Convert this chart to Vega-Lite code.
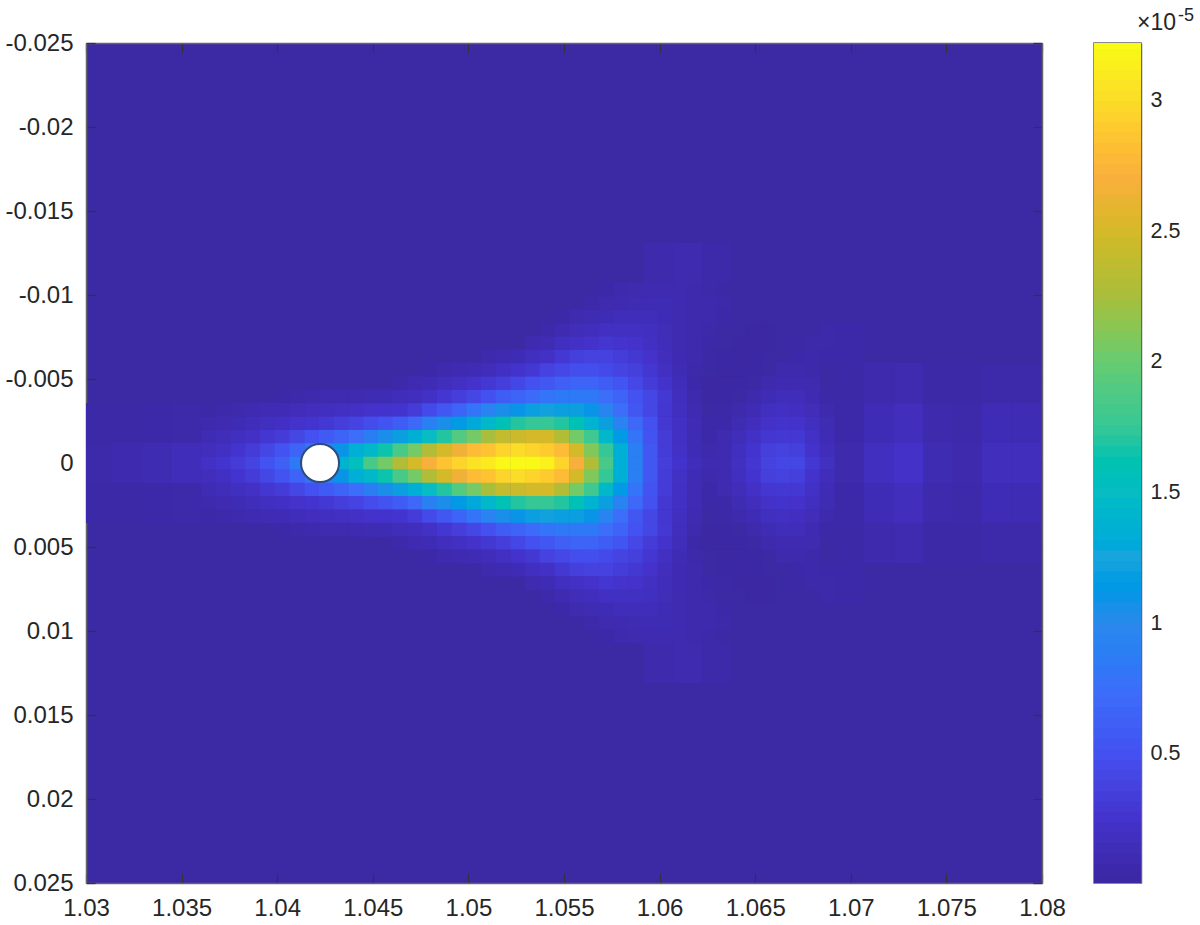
{"$schema":"https://vega.github.io/schema/vega-lite/v6.json","background":"white","padding":{"left":4,"top":6,"right":5,"bottom":5},"spacing":52,"bounds":"flush","config":{"view":{"fill":"#3C2AA5","stroke":null},"font":"Liberation Sans","axis":{"grid":false,"title":null,"labelFont":"Liberation Sans","labelColor":"#262626","tickColor":"#333333","domainColor":"#666666","domainWidth":1.5,"tickWidth":1.2,"zindex":1}},"datasets":{"fine":[
{"x":1.03641,"y":0,"v":0.22},{"x":1.03718,"y":0,"v":0.27},{"x":1.03795,"y":0,"v":0.32},{"x":1.03872,"y":0,"v":0.4},{"x":1.03949,"y":0,"v":0.52},{"x":1.04026,"y":0,"v":0.62},{"x":1.04103,"y":0,"v":0.85},{"x":1.04181,"y":0,"v":1.05},{"x":1.04258,"y":0,"v":1.2},{"x":1.04335,"y":0,"v":1.4},{"x":1.04412,"y":0,"v":1.55},{"x":1.04489,"y":0,"v":1.85},{"x":1.04566,"y":0,"v":2.05},{"x":1.04643,"y":0,"v":2.3},{"x":1.0472,"y":0,"v":2.5},{"x":1.04797,"y":0,"v":2.7},{"x":1.04874,"y":0,"v":2.85},{"x":1.04951,"y":0,"v":2.95},{"x":1.05028,"y":0,"v":3.05},{"x":1.05105,"y":0,"v":3.1},{"x":1.05182,"y":0,"v":3.2},{"x":1.05259,"y":0,"v":3.2},{"x":1.05336,"y":0,"v":3.2},{"x":1.05413,"y":0,"v":3.15},{"x":1.0549,"y":0,"v":2.95},{"x":1.05567,"y":0,"v":2.7},{"x":1.05644,"y":0,"v":2.3},{"x":1.05721,"y":0,"v":1.85},{"x":1.05798,"y":0,"v":1.35},{"x":1.05875,"y":0,"v":0.9},{"x":1.05952,"y":0,"v":0.55},{"x":1.06029,"y":0,"v":0.35},{"x":1.06106,"y":0,"v":0.25},{"x":1.06184,"y":0,"v":0.15},{"x":1.06261,"y":0,"v":0.1},{"x":1.06338,"y":0,"v":0.1},{"x":1.06415,"y":0,"v":0.2},{"x":1.06492,"y":0,"v":0.28},{"x":1.06569,"y":0,"v":0.38},{"x":1.06646,"y":0,"v":0.42},{"x":1.06723,"y":0,"v":0.42},{"x":1.068,"y":0,"v":0.3},{"x":1.06877,"y":0,"v":0.2},
{"x":1.03641,"y":0.00079,"v":0.17},{"x":1.03718,"y":0.00079,"v":0.2},{"x":1.03795,"y":0.00079,"v":0.27},{"x":1.03872,"y":0.00079,"v":0.32},{"x":1.03949,"y":0.00079,"v":0.42},{"x":1.04026,"y":0.00079,"v":0.52},{"x":1.04103,"y":0.00079,"v":0.65},{"x":1.04181,"y":0.00079,"v":0.78},{"x":1.04258,"y":0.00079,"v":0.9},{"x":1.04335,"y":0.00079,"v":1.1},{"x":1.04412,"y":0.00079,"v":1.35},{"x":1.04489,"y":0.00079,"v":1.45},{"x":1.04566,"y":0.00079,"v":1.65},{"x":1.04643,"y":0.00079,"v":1.85},{"x":1.0472,"y":0.00079,"v":2.05},{"x":1.04797,"y":0.00079,"v":2.3},{"x":1.04874,"y":0.00079,"v":2.5},{"x":1.04951,"y":0.00079,"v":2.65},{"x":1.05028,"y":0.00079,"v":2.8},{"x":1.05105,"y":0.00079,"v":2.85},{"x":1.05182,"y":0.00079,"v":2.95},{"x":1.05259,"y":0.00079,"v":3},{"x":1.05336,"y":0.00079,"v":2.95},{"x":1.05413,"y":0.00079,"v":2.9},{"x":1.0549,"y":0.00079,"v":2.8},{"x":1.05567,"y":0.00079,"v":2.5},{"x":1.05644,"y":0.00079,"v":2.1},{"x":1.05721,"y":0.00079,"v":1.75},{"x":1.05798,"y":0.00079,"v":1.35},{"x":1.05875,"y":0.00079,"v":0.9},{"x":1.05952,"y":0.00079,"v":0.55},{"x":1.06029,"y":0.00079,"v":0.33},{"x":1.06106,"y":0.00079,"v":0.22},{"x":1.06184,"y":0.00079,"v":0.13},{"x":1.06261,"y":0.00079,"v":0.08},{"x":1.06338,"y":0.00079,"v":0.1},{"x":1.06415,"y":0.00079,"v":0.18},{"x":1.06492,"y":0.00079,"v":0.27},{"x":1.06569,"y":0.00079,"v":0.36},{"x":1.06646,"y":0.00079,"v":0.38},{"x":1.06723,"y":0.00079,"v":0.36},{"x":1.068,"y":0.00079,"v":0.25},{"x":1.06877,"y":0.00079,"v":0.15},
{"x":1.03641,"y":-0.00079,"v":0.17},{"x":1.03718,"y":-0.00079,"v":0.2},{"x":1.03795,"y":-0.00079,"v":0.27},{"x":1.03872,"y":-0.00079,"v":0.32},{"x":1.03949,"y":-0.00079,"v":0.42},{"x":1.04026,"y":-0.00079,"v":0.52},{"x":1.04103,"y":-0.00079,"v":0.65},{"x":1.04181,"y":-0.00079,"v":0.78},{"x":1.04258,"y":-0.00079,"v":0.9},{"x":1.04335,"y":-0.00079,"v":1.1},{"x":1.04412,"y":-0.00079,"v":1.35},{"x":1.04489,"y":-0.00079,"v":1.45},{"x":1.04566,"y":-0.00079,"v":1.65},{"x":1.04643,"y":-0.00079,"v":1.85},{"x":1.0472,"y":-0.00079,"v":2.05},{"x":1.04797,"y":-0.00079,"v":2.3},{"x":1.04874,"y":-0.00079,"v":2.5},{"x":1.04951,"y":-0.00079,"v":2.65},{"x":1.05028,"y":-0.00079,"v":2.8},{"x":1.05105,"y":-0.00079,"v":2.85},{"x":1.05182,"y":-0.00079,"v":2.95},{"x":1.05259,"y":-0.00079,"v":3},{"x":1.05336,"y":-0.00079,"v":2.95},{"x":1.05413,"y":-0.00079,"v":2.9},{"x":1.0549,"y":-0.00079,"v":2.8},{"x":1.05567,"y":-0.00079,"v":2.5},{"x":1.05644,"y":-0.00079,"v":2.1},{"x":1.05721,"y":-0.00079,"v":1.75},{"x":1.05798,"y":-0.00079,"v":1.35},{"x":1.05875,"y":-0.00079,"v":0.9},{"x":1.05952,"y":-0.00079,"v":0.55},{"x":1.06029,"y":-0.00079,"v":0.33},{"x":1.06106,"y":-0.00079,"v":0.22},{"x":1.06184,"y":-0.00079,"v":0.13},{"x":1.06261,"y":-0.00079,"v":0.08},{"x":1.06338,"y":-0.00079,"v":0.1},{"x":1.06415,"y":-0.00079,"v":0.18},{"x":1.06492,"y":-0.00079,"v":0.27},{"x":1.06569,"y":-0.00079,"v":0.36},{"x":1.06646,"y":-0.00079,"v":0.38},{"x":1.06723,"y":-0.00079,"v":0.36},{"x":1.068,"y":-0.00079,"v":0.25},{"x":1.06877,"y":-0.00079,"v":0.15},
{"x":1.03641,"y":0.00159,"v":0.12},{"x":1.03718,"y":0.00159,"v":0.15},{"x":1.03795,"y":0.00159,"v":0.18},{"x":1.03872,"y":0.00159,"v":0.22},{"x":1.03949,"y":0.00159,"v":0.28},{"x":1.04026,"y":0.00159,"v":0.33},{"x":1.04103,"y":0.00159,"v":0.42},{"x":1.04181,"y":0.00159,"v":0.5},{"x":1.04258,"y":0.00159,"v":0.58},{"x":1.04335,"y":0.00159,"v":0.65},{"x":1.04412,"y":0.00159,"v":0.75},{"x":1.04489,"y":0.00159,"v":0.88},{"x":1.04566,"y":0.00159,"v":1.05},{"x":1.04643,"y":0.00159,"v":1.2},{"x":1.0472,"y":0.00159,"v":1.35},{"x":1.04797,"y":0.00159,"v":1.5},{"x":1.04874,"y":0.00159,"v":1.7},{"x":1.04951,"y":0.00159,"v":1.9},{"x":1.05028,"y":0.00159,"v":2.05},{"x":1.05105,"y":0.00159,"v":2.25},{"x":1.05182,"y":0.00159,"v":2.4},{"x":1.05259,"y":0.00159,"v":2.45},{"x":1.05336,"y":0.00159,"v":2.5},{"x":1.05413,"y":0.00159,"v":2.5},{"x":1.0549,"y":0.00159,"v":2.3},{"x":1.05567,"y":0.00159,"v":2.05},{"x":1.05644,"y":0.00159,"v":1.8},{"x":1.05721,"y":0.00159,"v":1.45},{"x":1.05798,"y":0.00159,"v":1.15},{"x":1.05875,"y":0.00159,"v":0.8},{"x":1.05952,"y":0.00159,"v":0.52},{"x":1.06029,"y":0.00159,"v":0.33},{"x":1.06106,"y":0.00159,"v":0.2},{"x":1.06184,"y":0.00159,"v":0.12},{"x":1.06261,"y":0.00159,"v":0.06},{"x":1.06338,"y":0.00159,"v":0.09},{"x":1.06415,"y":0.00159,"v":0.14},{"x":1.06492,"y":0.00159,"v":0.22},{"x":1.06569,"y":0.00159,"v":0.28},{"x":1.06646,"y":0.00159,"v":0.3},{"x":1.06723,"y":0.00159,"v":0.3},{"x":1.068,"y":0.00159,"v":0.22},{"x":1.06877,"y":0.00159,"v":0.13},
{"x":1.03641,"y":-0.00159,"v":0.12},{"x":1.03718,"y":-0.00159,"v":0.15},{"x":1.03795,"y":-0.00159,"v":0.18},{"x":1.03872,"y":-0.00159,"v":0.22},{"x":1.03949,"y":-0.00159,"v":0.28},{"x":1.04026,"y":-0.00159,"v":0.33},{"x":1.04103,"y":-0.00159,"v":0.42},{"x":1.04181,"y":-0.00159,"v":0.5},{"x":1.04258,"y":-0.00159,"v":0.58},{"x":1.04335,"y":-0.00159,"v":0.65},{"x":1.04412,"y":-0.00159,"v":0.75},{"x":1.04489,"y":-0.00159,"v":0.88},{"x":1.04566,"y":-0.00159,"v":1.05},{"x":1.04643,"y":-0.00159,"v":1.2},{"x":1.0472,"y":-0.00159,"v":1.35},{"x":1.04797,"y":-0.00159,"v":1.5},{"x":1.04874,"y":-0.00159,"v":1.7},{"x":1.04951,"y":-0.00159,"v":1.9},{"x":1.05028,"y":-0.00159,"v":2.05},{"x":1.05105,"y":-0.00159,"v":2.25},{"x":1.05182,"y":-0.00159,"v":2.4},{"x":1.05259,"y":-0.00159,"v":2.45},{"x":1.05336,"y":-0.00159,"v":2.5},{"x":1.05413,"y":-0.00159,"v":2.5},{"x":1.0549,"y":-0.00159,"v":2.3},{"x":1.05567,"y":-0.00159,"v":2.05},{"x":1.05644,"y":-0.00159,"v":1.8},{"x":1.05721,"y":-0.00159,"v":1.45},{"x":1.05798,"y":-0.00159,"v":1.15},{"x":1.05875,"y":-0.00159,"v":0.8},{"x":1.05952,"y":-0.00159,"v":0.52},{"x":1.06029,"y":-0.00159,"v":0.33},{"x":1.06106,"y":-0.00159,"v":0.2},{"x":1.06184,"y":-0.00159,"v":0.12},{"x":1.06261,"y":-0.00159,"v":0.06},{"x":1.06338,"y":-0.00159,"v":0.09},{"x":1.06415,"y":-0.00159,"v":0.14},{"x":1.06492,"y":-0.00159,"v":0.22},{"x":1.06569,"y":-0.00159,"v":0.28},{"x":1.06646,"y":-0.00159,"v":0.3},{"x":1.06723,"y":-0.00159,"v":0.3},{"x":1.068,"y":-0.00159,"v":0.22},{"x":1.06877,"y":-0.00159,"v":0.13},
{"x":1.03641,"y":0.00238,"v":0.08},{"x":1.03718,"y":0.00238,"v":0.1},{"x":1.03795,"y":0.00238,"v":0.12},{"x":1.03872,"y":0.00238,"v":0.15},{"x":1.03949,"y":0.00238,"v":0.18},{"x":1.04026,"y":0.00238,"v":0.21},{"x":1.04103,"y":0.00238,"v":0.24},{"x":1.04181,"y":0.00238,"v":0.27},{"x":1.04258,"y":0.00238,"v":0.3},{"x":1.04335,"y":0.00238,"v":0.35},{"x":1.04412,"y":0.00238,"v":0.4},{"x":1.04489,"y":0.00238,"v":0.47},{"x":1.04566,"y":0.00238,"v":0.52},{"x":1.04643,"y":0.00238,"v":0.6},{"x":1.0472,"y":0.00238,"v":0.7},{"x":1.04797,"y":0.00238,"v":0.9},{"x":1.04874,"y":0.00238,"v":1.05},{"x":1.04951,"y":0.00238,"v":1.15},{"x":1.05028,"y":0.00238,"v":1.3},{"x":1.05105,"y":0.00238,"v":1.45},{"x":1.05182,"y":0.00238,"v":1.6},{"x":1.05259,"y":0.00238,"v":1.7},{"x":1.05336,"y":0.00238,"v":1.75},{"x":1.05413,"y":0.00238,"v":1.75},{"x":1.0549,"y":0.00238,"v":1.7},{"x":1.05567,"y":0.00238,"v":1.6},{"x":1.05644,"y":0.00238,"v":1.4},{"x":1.05721,"y":0.00238,"v":1.2},{"x":1.05798,"y":0.00238,"v":0.95},{"x":1.05875,"y":0.00238,"v":0.7},{"x":1.05952,"y":0.00238,"v":0.5},{"x":1.06029,"y":0.00238,"v":0.3},{"x":1.06106,"y":0.00238,"v":0.2},{"x":1.06184,"y":0.00238,"v":0.12},{"x":1.06261,"y":0.00238,"v":0.05},{"x":1.06338,"y":0.00238,"v":0.06},{"x":1.06415,"y":0.00238,"v":0.11},{"x":1.06492,"y":0.00238,"v":0.16},{"x":1.06569,"y":0.00238,"v":0.23},{"x":1.06646,"y":0.00238,"v":0.25},{"x":1.06723,"y":0.00238,"v":0.24},{"x":1.068,"y":0.00238,"v":0.18},{"x":1.06877,"y":0.00238,"v":0.11},
{"x":1.03641,"y":-0.00238,"v":0.08},{"x":1.03718,"y":-0.00238,"v":0.1},{"x":1.03795,"y":-0.00238,"v":0.12},{"x":1.03872,"y":-0.00238,"v":0.15},{"x":1.03949,"y":-0.00238,"v":0.18},{"x":1.04026,"y":-0.00238,"v":0.21},{"x":1.04103,"y":-0.00238,"v":0.24},{"x":1.04181,"y":-0.00238,"v":0.27},{"x":1.04258,"y":-0.00238,"v":0.3},{"x":1.04335,"y":-0.00238,"v":0.35},{"x":1.04412,"y":-0.00238,"v":0.4},{"x":1.04489,"y":-0.00238,"v":0.47},{"x":1.04566,"y":-0.00238,"v":0.52},{"x":1.04643,"y":-0.00238,"v":0.6},{"x":1.0472,"y":-0.00238,"v":0.7},{"x":1.04797,"y":-0.00238,"v":0.9},{"x":1.04874,"y":-0.00238,"v":1.05},{"x":1.04951,"y":-0.00238,"v":1.15},{"x":1.05028,"y":-0.00238,"v":1.3},{"x":1.05105,"y":-0.00238,"v":1.45},{"x":1.05182,"y":-0.00238,"v":1.6},{"x":1.05259,"y":-0.00238,"v":1.7},{"x":1.05336,"y":-0.00238,"v":1.75},{"x":1.05413,"y":-0.00238,"v":1.75},{"x":1.0549,"y":-0.00238,"v":1.7},{"x":1.05567,"y":-0.00238,"v":1.6},{"x":1.05644,"y":-0.00238,"v":1.4},{"x":1.05721,"y":-0.00238,"v":1.2},{"x":1.05798,"y":-0.00238,"v":0.95},{"x":1.05875,"y":-0.00238,"v":0.7},{"x":1.05952,"y":-0.00238,"v":0.5},{"x":1.06029,"y":-0.00238,"v":0.3},{"x":1.06106,"y":-0.00238,"v":0.2},{"x":1.06184,"y":-0.00238,"v":0.12},{"x":1.06261,"y":-0.00238,"v":0.05},{"x":1.06338,"y":-0.00238,"v":0.06},{"x":1.06415,"y":-0.00238,"v":0.11},{"x":1.06492,"y":-0.00238,"v":0.16},{"x":1.06569,"y":-0.00238,"v":0.23},{"x":1.06646,"y":-0.00238,"v":0.25},{"x":1.06723,"y":-0.00238,"v":0.24},{"x":1.068,"y":-0.00238,"v":0.18},{"x":1.06877,"y":-0.00238,"v":0.11},
{"x":1.03641,"y":0.00318,"v":0.05},{"x":1.03718,"y":0.00318,"v":0.07},{"x":1.03795,"y":0.00318,"v":0.08},{"x":1.03872,"y":0.00318,"v":0.1},{"x":1.03949,"y":0.00318,"v":0.12},{"x":1.04026,"y":0.00318,"v":0.13},{"x":1.04103,"y":0.00318,"v":0.15},{"x":1.04181,"y":0.00318,"v":0.17},{"x":1.04258,"y":0.00318,"v":0.18},{"x":1.04335,"y":0.00318,"v":0.2},{"x":1.04412,"y":0.00318,"v":0.22},{"x":1.04489,"y":0.00318,"v":0.24},{"x":1.04566,"y":0.00318,"v":0.25},{"x":1.04643,"y":0.00318,"v":0.27},{"x":1.0472,"y":0.00318,"v":0.33},{"x":1.04797,"y":0.00318,"v":0.45},{"x":1.04874,"y":0.00318,"v":0.55},{"x":1.04951,"y":0.00318,"v":0.65},{"x":1.05028,"y":0.00318,"v":0.8},{"x":1.05105,"y":0.00318,"v":0.95},{"x":1.05182,"y":0.00318,"v":1.05},{"x":1.05259,"y":0.00318,"v":1.1},{"x":1.05336,"y":0.00318,"v":1.2},{"x":1.05413,"y":0.00318,"v":1.22},{"x":1.0549,"y":0.00318,"v":1.2},{"x":1.05567,"y":0.00318,"v":1.2},{"x":1.05644,"y":0.00318,"v":1.1},{"x":1.05721,"y":0.00318,"v":0.95},{"x":1.05798,"y":0.00318,"v":0.75},{"x":1.05875,"y":0.00318,"v":0.55},{"x":1.05952,"y":0.00318,"v":0.42},{"x":1.06029,"y":0.00318,"v":0.28},{"x":1.06106,"y":0.00318,"v":0.18},{"x":1.06184,"y":0.00318,"v":0.1},{"x":1.06338,"y":0.00318,"v":0.05},{"x":1.06415,"y":0.00318,"v":0.08},{"x":1.06492,"y":0.00318,"v":0.12},{"x":1.06569,"y":0.00318,"v":0.18},{"x":1.06646,"y":0.00318,"v":0.2},{"x":1.06723,"y":0.00318,"v":0.19},{"x":1.068,"y":0.00318,"v":0.14},{"x":1.06877,"y":0.00318,"v":0.08},
{"x":1.03641,"y":-0.00318,"v":0.05},{"x":1.03718,"y":-0.00318,"v":0.07},{"x":1.03795,"y":-0.00318,"v":0.08},{"x":1.03872,"y":-0.00318,"v":0.1},{"x":1.03949,"y":-0.00318,"v":0.12},{"x":1.04026,"y":-0.00318,"v":0.13},{"x":1.04103,"y":-0.00318,"v":0.15},{"x":1.04181,"y":-0.00318,"v":0.17},{"x":1.04258,"y":-0.00318,"v":0.18},{"x":1.04335,"y":-0.00318,"v":0.2},{"x":1.04412,"y":-0.00318,"v":0.22},{"x":1.04489,"y":-0.00318,"v":0.24},{"x":1.04566,"y":-0.00318,"v":0.25},{"x":1.04643,"y":-0.00318,"v":0.27},{"x":1.0472,"y":-0.00318,"v":0.33},{"x":1.04797,"y":-0.00318,"v":0.45},{"x":1.04874,"y":-0.00318,"v":0.55},{"x":1.04951,"y":-0.00318,"v":0.65},{"x":1.05028,"y":-0.00318,"v":0.8},{"x":1.05105,"y":-0.00318,"v":0.95},{"x":1.05182,"y":-0.00318,"v":1.05},{"x":1.05259,"y":-0.00318,"v":1.1},{"x":1.05336,"y":-0.00318,"v":1.2},{"x":1.05413,"y":-0.00318,"v":1.22},{"x":1.0549,"y":-0.00318,"v":1.2},{"x":1.05567,"y":-0.00318,"v":1.2},{"x":1.05644,"y":-0.00318,"v":1.1},{"x":1.05721,"y":-0.00318,"v":0.95},{"x":1.05798,"y":-0.00318,"v":0.75},{"x":1.05875,"y":-0.00318,"v":0.55},{"x":1.05952,"y":-0.00318,"v":0.42},{"x":1.06029,"y":-0.00318,"v":0.28},{"x":1.06106,"y":-0.00318,"v":0.18},{"x":1.06184,"y":-0.00318,"v":0.1},{"x":1.06338,"y":-0.00318,"v":0.05},{"x":1.06415,"y":-0.00318,"v":0.08},{"x":1.06492,"y":-0.00318,"v":0.12},{"x":1.06569,"y":-0.00318,"v":0.18},{"x":1.06646,"y":-0.00318,"v":0.2},{"x":1.06723,"y":-0.00318,"v":0.19},{"x":1.068,"y":-0.00318,"v":0.14},{"x":1.06877,"y":-0.00318,"v":0.08},
{"x":1.04026,"y":0.00397,"v":0.06},{"x":1.04103,"y":0.00397,"v":0.07},{"x":1.04181,"y":0.00397,"v":0.08},{"x":1.04258,"y":0.00397,"v":0.09},{"x":1.04335,"y":0.00397,"v":0.09},{"x":1.04412,"y":0.00397,"v":0.1},{"x":1.04489,"y":0.00397,"v":0.11},{"x":1.04566,"y":0.00397,"v":0.12},{"x":1.04643,"y":0.00397,"v":0.15},{"x":1.0472,"y":0.00397,"v":0.17},{"x":1.04797,"y":0.00397,"v":0.22},{"x":1.04874,"y":0.00397,"v":0.28},{"x":1.04951,"y":0.00397,"v":0.35},{"x":1.05028,"y":0.00397,"v":0.42},{"x":1.05105,"y":0.00397,"v":0.5},{"x":1.05182,"y":0.00397,"v":0.6},{"x":1.05259,"y":0.00397,"v":0.65},{"x":1.05336,"y":0.00397,"v":0.72},{"x":1.05413,"y":0.00397,"v":0.8},{"x":1.0549,"y":0.00397,"v":0.85},{"x":1.05567,"y":0.00397,"v":0.85},{"x":1.05644,"y":0.00397,"v":0.85},{"x":1.05721,"y":0.00397,"v":0.75},{"x":1.05798,"y":0.00397,"v":0.65},{"x":1.05875,"y":0.00397,"v":0.52},{"x":1.05952,"y":0.00397,"v":0.42},{"x":1.06029,"y":0.00397,"v":0.3},{"x":1.06106,"y":0.00397,"v":0.17},{"x":1.06184,"y":0.00397,"v":0.08},{"x":1.06261,"y":0.00397,"v":0.02},{"x":1.06338,"y":0.00397,"v":0.03},{"x":1.06492,"y":0.00397,"v":0.08},{"x":1.06569,"y":0.00397,"v":0.12},{"x":1.06646,"y":0.00397,"v":0.15},{"x":1.06723,"y":0.00397,"v":0.15},{"x":1.068,"y":0.00397,"v":0.1},{"x":1.06877,"y":0.00397,"v":0.06},
{"x":1.04026,"y":-0.00397,"v":0.06},{"x":1.04103,"y":-0.00397,"v":0.07},{"x":1.04181,"y":-0.00397,"v":0.08},{"x":1.04258,"y":-0.00397,"v":0.09},{"x":1.04335,"y":-0.00397,"v":0.09},{"x":1.04412,"y":-0.00397,"v":0.1},{"x":1.04489,"y":-0.00397,"v":0.11},{"x":1.04566,"y":-0.00397,"v":0.12},{"x":1.04643,"y":-0.00397,"v":0.15},{"x":1.0472,"y":-0.00397,"v":0.17},{"x":1.04797,"y":-0.00397,"v":0.22},{"x":1.04874,"y":-0.00397,"v":0.28},{"x":1.04951,"y":-0.00397,"v":0.35},{"x":1.05028,"y":-0.00397,"v":0.42},{"x":1.05105,"y":-0.00397,"v":0.5},{"x":1.05182,"y":-0.00397,"v":0.6},{"x":1.05259,"y":-0.00397,"v":0.65},{"x":1.05336,"y":-0.00397,"v":0.72},{"x":1.05413,"y":-0.00397,"v":0.8},{"x":1.0549,"y":-0.00397,"v":0.85},{"x":1.05567,"y":-0.00397,"v":0.85},{"x":1.05644,"y":-0.00397,"v":0.85},{"x":1.05721,"y":-0.00397,"v":0.75},{"x":1.05798,"y":-0.00397,"v":0.65},{"x":1.05875,"y":-0.00397,"v":0.52},{"x":1.05952,"y":-0.00397,"v":0.42},{"x":1.06029,"y":-0.00397,"v":0.3},{"x":1.06106,"y":-0.00397,"v":0.17},{"x":1.06184,"y":-0.00397,"v":0.08},{"x":1.06261,"y":-0.00397,"v":0.02},{"x":1.06338,"y":-0.00397,"v":0.03},{"x":1.06492,"y":-0.00397,"v":0.08},{"x":1.06569,"y":-0.00397,"v":0.12},{"x":1.06646,"y":-0.00397,"v":0.15},{"x":1.06723,"y":-0.00397,"v":0.15},{"x":1.068,"y":-0.00397,"v":0.1},{"x":1.06877,"y":-0.00397,"v":0.06},
{"x":1.04643,"y":0.00476,"v":0.07},{"x":1.0472,"y":0.00476,"v":0.1},{"x":1.04797,"y":0.00476,"v":0.12},{"x":1.04874,"y":0.00476,"v":0.17},{"x":1.04951,"y":0.00476,"v":0.2},{"x":1.05028,"y":0.00476,"v":0.24},{"x":1.05105,"y":0.00476,"v":0.3},{"x":1.05182,"y":0.00476,"v":0.35},{"x":1.05259,"y":0.00476,"v":0.42},{"x":1.05336,"y":0.00476,"v":0.5},{"x":1.05413,"y":0.00476,"v":0.55},{"x":1.0549,"y":0.00476,"v":0.62},{"x":1.05567,"y":0.00476,"v":0.66},{"x":1.05644,"y":0.00476,"v":0.66},{"x":1.05721,"y":0.00476,"v":0.6},{"x":1.05798,"y":0.00476,"v":0.53},{"x":1.05875,"y":0.00476,"v":0.43},{"x":1.05952,"y":0.00476,"v":0.33},{"x":1.06029,"y":0.00476,"v":0.25},{"x":1.06106,"y":0.00476,"v":0.15},{"x":1.06184,"y":0.00476,"v":0.06},{"x":1.06261,"y":0.00476,"v":0.02},{"x":1.06338,"y":0.00476,"v":0.02},{"x":1.06415,"y":0.00476,"v":0.03},{"x":1.06569,"y":0.00476,"v":0.08},{"x":1.06646,"y":0.00476,"v":0.1},{"x":1.06723,"y":0.00476,"v":0.1},{"x":1.068,"y":0.00476,"v":0.09},
{"x":1.04643,"y":-0.00476,"v":0.07},{"x":1.0472,"y":-0.00476,"v":0.1},{"x":1.04797,"y":-0.00476,"v":0.12},{"x":1.04874,"y":-0.00476,"v":0.17},{"x":1.04951,"y":-0.00476,"v":0.2},{"x":1.05028,"y":-0.00476,"v":0.24},{"x":1.05105,"y":-0.00476,"v":0.3},{"x":1.05182,"y":-0.00476,"v":0.35},{"x":1.05259,"y":-0.00476,"v":0.42},{"x":1.05336,"y":-0.00476,"v":0.5},{"x":1.05413,"y":-0.00476,"v":0.55},{"x":1.0549,"y":-0.00476,"v":0.62},{"x":1.05567,"y":-0.00476,"v":0.66},{"x":1.05644,"y":-0.00476,"v":0.66},{"x":1.05721,"y":-0.00476,"v":0.6},{"x":1.05798,"y":-0.00476,"v":0.53},{"x":1.05875,"y":-0.00476,"v":0.43},{"x":1.05952,"y":-0.00476,"v":0.33},{"x":1.06029,"y":-0.00476,"v":0.25},{"x":1.06106,"y":-0.00476,"v":0.15},{"x":1.06184,"y":-0.00476,"v":0.06},{"x":1.06261,"y":-0.00476,"v":0.02},{"x":1.06338,"y":-0.00476,"v":0.02},{"x":1.06415,"y":-0.00476,"v":0.03},{"x":1.06569,"y":-0.00476,"v":0.08},{"x":1.06646,"y":-0.00476,"v":0.1},{"x":1.06723,"y":-0.00476,"v":0.1},{"x":1.068,"y":-0.00476,"v":0.09},
{"x":1.04797,"y":0.00556,"v":0.06},{"x":1.04874,"y":0.00556,"v":0.08},{"x":1.04951,"y":0.00556,"v":0.1},{"x":1.05028,"y":0.00556,"v":0.12},{"x":1.05105,"y":0.00556,"v":0.15},{"x":1.05182,"y":0.00556,"v":0.2},{"x":1.05259,"y":0.00556,"v":0.25},{"x":1.05336,"y":0.00556,"v":0.3},{"x":1.05413,"y":0.00556,"v":0.38},{"x":1.0549,"y":0.00556,"v":0.43},{"x":1.05567,"y":0.00556,"v":0.48},{"x":1.05644,"y":0.00556,"v":0.48},{"x":1.05721,"y":0.00556,"v":0.45},{"x":1.05798,"y":0.00556,"v":0.4},{"x":1.05875,"y":0.00556,"v":0.36},{"x":1.05952,"y":0.00556,"v":0.28},{"x":1.06029,"y":0.00556,"v":0.2},{"x":1.06106,"y":0.00556,"v":0.12},{"x":1.06184,"y":0.00556,"v":0.07},{"x":1.06338,"y":0.00556,"v":0.02},{"x":1.06415,"y":0.00556,"v":0.02},{"x":1.06492,"y":0.00556,"v":0.03},{"x":1.06646,"y":0.00556,"v":0.08},{"x":1.06723,"y":0.00556,"v":0.08},{"x":1.068,"y":0.00556,"v":0.07},
{"x":1.04797,"y":-0.00556,"v":0.06},{"x":1.04874,"y":-0.00556,"v":0.08},{"x":1.04951,"y":-0.00556,"v":0.1},{"x":1.05028,"y":-0.00556,"v":0.12},{"x":1.05105,"y":-0.00556,"v":0.15},{"x":1.05182,"y":-0.00556,"v":0.2},{"x":1.05259,"y":-0.00556,"v":0.25},{"x":1.05336,"y":-0.00556,"v":0.3},{"x":1.05413,"y":-0.00556,"v":0.38},{"x":1.0549,"y":-0.00556,"v":0.43},{"x":1.05567,"y":-0.00556,"v":0.48},{"x":1.05644,"y":-0.00556,"v":0.48},{"x":1.05721,"y":-0.00556,"v":0.45},{"x":1.05798,"y":-0.00556,"v":0.4},{"x":1.05875,"y":-0.00556,"v":0.36},{"x":1.05952,"y":-0.00556,"v":0.28},{"x":1.06029,"y":-0.00556,"v":0.2},{"x":1.06106,"y":-0.00556,"v":0.12},{"x":1.06184,"y":-0.00556,"v":0.07},{"x":1.06338,"y":-0.00556,"v":0.02},{"x":1.06415,"y":-0.00556,"v":0.02},{"x":1.06492,"y":-0.00556,"v":0.03},{"x":1.06646,"y":-0.00556,"v":0.08},{"x":1.06723,"y":-0.00556,"v":0.08},{"x":1.068,"y":-0.00556,"v":0.07},
{"x":1.05105,"y":0.00635,"v":0.08},{"x":1.05182,"y":0.00635,"v":0.1},{"x":1.05259,"y":0.00635,"v":0.13},{"x":1.05336,"y":0.00635,"v":0.18},{"x":1.05413,"y":0.00635,"v":0.22},{"x":1.0549,"y":0.00635,"v":0.3},{"x":1.05567,"y":0.00635,"v":0.36},{"x":1.05644,"y":0.00635,"v":0.38},{"x":1.05721,"y":0.00635,"v":0.38},{"x":1.05798,"y":0.00635,"v":0.34},{"x":1.05875,"y":0.00635,"v":0.3},{"x":1.05952,"y":0.00635,"v":0.24},{"x":1.06029,"y":0.00635,"v":0.17},{"x":1.06106,"y":0.00635,"v":0.1},{"x":1.06184,"y":0.00635,"v":0.08},{"x":1.06338,"y":0.00635,"v":0.03},{"x":1.06415,"y":0.00635,"v":0.02},{"x":1.06492,"y":0.00635,"v":0.02},{"x":1.06723,"y":0.00635,"v":0.06},{"x":1.068,"y":0.00635,"v":0.07},{"x":1.06877,"y":0.00635,"v":0.06},
{"x":1.05105,"y":-0.00635,"v":0.08},{"x":1.05182,"y":-0.00635,"v":0.1},{"x":1.05259,"y":-0.00635,"v":0.13},{"x":1.05336,"y":-0.00635,"v":0.18},{"x":1.05413,"y":-0.00635,"v":0.22},{"x":1.0549,"y":-0.00635,"v":0.3},{"x":1.05567,"y":-0.00635,"v":0.36},{"x":1.05644,"y":-0.00635,"v":0.38},{"x":1.05721,"y":-0.00635,"v":0.38},{"x":1.05798,"y":-0.00635,"v":0.34},{"x":1.05875,"y":-0.00635,"v":0.3},{"x":1.05952,"y":-0.00635,"v":0.24},{"x":1.06029,"y":-0.00635,"v":0.17},{"x":1.06106,"y":-0.00635,"v":0.1},{"x":1.06184,"y":-0.00635,"v":0.08},{"x":1.06338,"y":-0.00635,"v":0.03},{"x":1.06415,"y":-0.00635,"v":0.02},{"x":1.06492,"y":-0.00635,"v":0.02},{"x":1.06723,"y":-0.00635,"v":0.06},{"x":1.068,"y":-0.00635,"v":0.07},{"x":1.06877,"y":-0.00635,"v":0.06},
{"x":1.05336,"y":0.00715,"v":0.09},{"x":1.05413,"y":0.00715,"v":0.12},{"x":1.0549,"y":0.00715,"v":0.18},{"x":1.05567,"y":0.00715,"v":0.22},{"x":1.05644,"y":0.00715,"v":0.24},{"x":1.05721,"y":0.00715,"v":0.28},{"x":1.05798,"y":0.00715,"v":0.26},{"x":1.05875,"y":0.00715,"v":0.24},{"x":1.05952,"y":0.00715,"v":0.2},{"x":1.06029,"y":0.00715,"v":0.15},{"x":1.06106,"y":0.00715,"v":0.1},{"x":1.06184,"y":0.00715,"v":0.08},{"x":1.06261,"y":0.00715,"v":0.06},{"x":1.06415,"y":0.00715,"v":0.02},{"x":1.06492,"y":0.00715,"v":0.02},{"x":1.06569,"y":0.00715,"v":0.02},{"x":1.068,"y":0.00715,"v":0.07},{"x":1.06877,"y":0.00715,"v":0.07},
{"x":1.05336,"y":-0.00715,"v":0.09},{"x":1.05413,"y":-0.00715,"v":0.12},{"x":1.0549,"y":-0.00715,"v":0.18},{"x":1.05567,"y":-0.00715,"v":0.22},{"x":1.05644,"y":-0.00715,"v":0.24},{"x":1.05721,"y":-0.00715,"v":0.28},{"x":1.05798,"y":-0.00715,"v":0.26},{"x":1.05875,"y":-0.00715,"v":0.24},{"x":1.05952,"y":-0.00715,"v":0.2},{"x":1.06029,"y":-0.00715,"v":0.15},{"x":1.06106,"y":-0.00715,"v":0.1},{"x":1.06184,"y":-0.00715,"v":0.08},{"x":1.06261,"y":-0.00715,"v":0.06},{"x":1.06415,"y":-0.00715,"v":0.02},{"x":1.06492,"y":-0.00715,"v":0.02},{"x":1.06569,"y":-0.00715,"v":0.02},{"x":1.068,"y":-0.00715,"v":0.07},{"x":1.06877,"y":-0.00715,"v":0.07},
{"x":1.05413,"y":0.00794,"v":0.07},{"x":1.0549,"y":0.00794,"v":0.1},{"x":1.05567,"y":0.00794,"v":0.14},{"x":1.05644,"y":0.00794,"v":0.16},{"x":1.05721,"y":0.00794,"v":0.2},{"x":1.05798,"y":0.00794,"v":0.2},{"x":1.05875,"y":0.00794,"v":0.2},{"x":1.05952,"y":0.00794,"v":0.18},{"x":1.06029,"y":0.00794,"v":0.14},{"x":1.06106,"y":0.00794,"v":0.1},{"x":1.06184,"y":0.00794,"v":0.08},{"x":1.06261,"y":0.00794,"v":0.07},{"x":1.06492,"y":0.00794,"v":0.02},{"x":1.06569,"y":0.00794,"v":0.02},{"x":1.06877,"y":0.00794,"v":0.07},
{"x":1.05413,"y":-0.00794,"v":0.07},{"x":1.0549,"y":-0.00794,"v":0.1},{"x":1.05567,"y":-0.00794,"v":0.14},{"x":1.05644,"y":-0.00794,"v":0.16},{"x":1.05721,"y":-0.00794,"v":0.2},{"x":1.05798,"y":-0.00794,"v":0.2},{"x":1.05875,"y":-0.00794,"v":0.2},{"x":1.05952,"y":-0.00794,"v":0.18},{"x":1.06029,"y":-0.00794,"v":0.14},{"x":1.06106,"y":-0.00794,"v":0.1},{"x":1.06184,"y":-0.00794,"v":0.08},{"x":1.06261,"y":-0.00794,"v":0.07},{"x":1.06492,"y":-0.00794,"v":0.02},{"x":1.06569,"y":-0.00794,"v":0.02},{"x":1.06877,"y":-0.00794,"v":0.07},
{"x":1.0549,"y":0.00873,"v":0.06},{"x":1.05567,"y":0.00873,"v":0.09},{"x":1.05644,"y":0.00873,"v":0.11},{"x":1.05721,"y":0.00873,"v":0.13},{"x":1.05798,"y":0.00873,"v":0.15},{"x":1.05875,"y":0.00873,"v":0.15},{"x":1.05952,"y":0.00873,"v":0.15},{"x":1.06029,"y":0.00873,"v":0.13},{"x":1.06106,"y":0.00873,"v":0.1},{"x":1.06184,"y":0.00873,"v":0.08},{"x":1.06261,"y":0.00873,"v":0.08},{"x":1.06338,"y":0.00873,"v":0.06},
{"x":1.0549,"y":-0.00873,"v":0.06},{"x":1.05567,"y":-0.00873,"v":0.09},{"x":1.05644,"y":-0.00873,"v":0.11},{"x":1.05721,"y":-0.00873,"v":0.13},{"x":1.05798,"y":-0.00873,"v":0.15},{"x":1.05875,"y":-0.00873,"v":0.15},{"x":1.05952,"y":-0.00873,"v":0.15},{"x":1.06029,"y":-0.00873,"v":0.13},{"x":1.06106,"y":-0.00873,"v":0.1},{"x":1.06184,"y":-0.00873,"v":0.08},{"x":1.06261,"y":-0.00873,"v":0.08},{"x":1.06338,"y":-0.00873,"v":0.06},
{"x":1.05644,"y":0.00953,"v":0.07},{"x":1.05721,"y":0.00953,"v":0.09},{"x":1.05798,"y":0.00953,"v":0.1},{"x":1.05875,"y":0.00953,"v":0.11},{"x":1.05952,"y":0.00953,"v":0.12},{"x":1.06029,"y":0.00953,"v":0.12},{"x":1.06106,"y":0.00953,"v":0.1},{"x":1.06184,"y":0.00953,"v":0.08},{"x":1.06261,"y":0.00953,"v":0.08},{"x":1.06338,"y":0.00953,"v":0.07},
{"x":1.05644,"y":-0.00953,"v":0.07},{"x":1.05721,"y":-0.00953,"v":0.09},{"x":1.05798,"y":-0.00953,"v":0.1},{"x":1.05875,"y":-0.00953,"v":0.11},{"x":1.05952,"y":-0.00953,"v":0.12},{"x":1.06029,"y":-0.00953,"v":0.12},{"x":1.06106,"y":-0.00953,"v":0.1},{"x":1.06184,"y":-0.00953,"v":0.08},{"x":1.06261,"y":-0.00953,"v":0.08},{"x":1.06338,"y":-0.00953,"v":0.07},
{"x":1.05721,"y":0.01032,"v":0.06},{"x":1.05798,"y":0.01032,"v":0.08},{"x":1.05875,"y":0.01032,"v":0.09},{"x":1.05952,"y":0.01032,"v":0.1},{"x":1.06029,"y":0.01032,"v":0.1},{"x":1.06106,"y":0.01032,"v":0.09},{"x":1.06184,"y":0.01032,"v":0.08},{"x":1.06261,"y":0.01032,"v":0.07},
{"x":1.05721,"y":-0.01032,"v":0.06},{"x":1.05798,"y":-0.01032,"v":0.08},{"x":1.05875,"y":-0.01032,"v":0.09},{"x":1.05952,"y":-0.01032,"v":0.1},{"x":1.06029,"y":-0.01032,"v":0.1},{"x":1.06106,"y":-0.01032,"v":0.09},{"x":1.06184,"y":-0.01032,"v":0.08},{"x":1.06261,"y":-0.01032,"v":0.07}
],"coarse":[
{"x":1.03064,"y":0,"v":0.07},{"x":1.03218,"y":0,"v":0.085},{"x":1.03372,"y":0,"v":0.11},{"x":1.03526,"y":0,"v":0.15},
{"x":1.03064,"y":0.00238,"v":0.045},{"x":1.03218,"y":0.00238,"v":0.05},{"x":1.03372,"y":0.00238,"v":0.055},{"x":1.03526,"y":0.00238,"v":0.065},
{"x":1.03064,"y":-0.00238,"v":0.045},{"x":1.03218,"y":-0.00238,"v":0.05},{"x":1.03372,"y":-0.00238,"v":0.055},{"x":1.03526,"y":-0.00238,"v":0.065},
{"x":1.06993,"y":0,"v":0.08},{"x":1.07147,"y":0,"v":0.18},{"x":1.07301,"y":0,"v":0.23},{"x":1.07455,"y":0,"v":0.11},{"x":1.07609,"y":0,"v":0.08},{"x":1.07763,"y":0,"v":0.17},{"x":1.07917,"y":0,"v":0.17},
{"x":1.06993,"y":0.00238,"v":0.055},{"x":1.07147,"y":0.00238,"v":0.13},{"x":1.07301,"y":0.00238,"v":0.17},{"x":1.07455,"y":0.00238,"v":0.08},{"x":1.07609,"y":0.00238,"v":0.07},{"x":1.07763,"y":0.00238,"v":0.13},{"x":1.07917,"y":0.00238,"v":0.12},
{"x":1.06993,"y":-0.00238,"v":0.055},{"x":1.07147,"y":-0.00238,"v":0.13},{"x":1.07301,"y":-0.00238,"v":0.17},{"x":1.07455,"y":-0.00238,"v":0.08},{"x":1.07609,"y":-0.00238,"v":0.07},{"x":1.07763,"y":-0.00238,"v":0.13},{"x":1.07917,"y":-0.00238,"v":0.12},
{"x":1.06993,"y":0.00476,"v":0.045},{"x":1.07147,"y":0.00476,"v":0.08},{"x":1.07301,"y":0.00476,"v":0.09},{"x":1.07455,"y":0.00476,"v":0.05},{"x":1.07609,"y":0.00476,"v":0.05},{"x":1.07763,"y":0.00476,"v":0.07},{"x":1.07917,"y":0.00476,"v":0.07},
{"x":1.06993,"y":-0.00476,"v":0.045},{"x":1.07147,"y":-0.00476,"v":0.08},{"x":1.07301,"y":-0.00476,"v":0.09},{"x":1.07455,"y":-0.00476,"v":0.05},{"x":1.07609,"y":-0.00476,"v":0.05},{"x":1.07763,"y":-0.00476,"v":0.07},{"x":1.07917,"y":-0.00476,"v":0.07},
{"x":1.06993,"y":0.00715,"v":0.06},{"x":1.06993,"y":-0.00715,"v":0.06},
{"x":1.05991,"y":0.01191,"v":0.08},{"x":1.06145,"y":0.01191,"v":0.09},{"x":1.06299,"y":0.01191,"v":0.07},
{"x":1.05991,"y":-0.01191,"v":0.08},{"x":1.06145,"y":-0.01191,"v":0.09},{"x":1.06299,"y":-0.01191,"v":0.07}
],"dot":[{"x":1.04224,"y":0}],"bar":[{"v":0.02},{"v":0.06},{"v":0.1},{"v":0.14},{"v":0.18},{"v":0.22},{"v":0.26},{"v":0.3},{"v":0.34},{"v":0.38},{"v":0.42},{"v":0.46},{"v":0.5},{"v":0.54},{"v":0.58},{"v":0.62},{"v":0.66},{"v":0.7},{"v":0.74},{"v":0.78},{"v":0.82},{"v":0.86},{"v":0.9},{"v":0.94},{"v":0.98},{"v":1.02},{"v":1.06},{"v":1.1},{"v":1.14},{"v":1.18},{"v":1.22},{"v":1.26},{"v":1.3},{"v":1.34},{"v":1.38},{"v":1.42},{"v":1.46},{"v":1.5},{"v":1.54},{"v":1.58},{"v":1.62},{"v":1.66},{"v":1.7},{"v":1.74},{"v":1.78},{"v":1.82},{"v":1.86},{"v":1.9},{"v":1.94},{"v":1.98},{"v":2.02},{"v":2.06},{"v":2.1},{"v":2.14},{"v":2.18},{"v":2.22},{"v":2.26},{"v":2.3},{"v":2.34},{"v":2.38},{"v":2.42},{"v":2.46},{"v":2.5},{"v":2.54},{"v":2.58},{"v":2.62},{"v":2.66},{"v":2.7},{"v":2.74},{"v":2.78},{"v":2.82},{"v":2.86},{"v":2.9},{"v":2.94},{"v":2.98},{"v":3.02},{"v":3.06},{"v":3.1},{"v":3.14},{"v":3.18},{"v":3.22}],"exp":[{"v":3.22,"label":"-5"}],"base":[{"v":3.22,"label":"×10"}]},"hconcat":[{"width":956,"height":840,"resolve":{"axis":{"x":"independent","y":"independent"}},"layer":[{"data":{"name":"fine"},"mark":{"type":"rect","width":15.2,"height":13.9,"clip":true},"encoding":{"x":{"field":"x","type":"quantitative","scale":{"domain":[1.03,1.08],"nice":false,"zero":false},"axis":{"values":[1.03,1.035,1.04,1.045,1.05,1.055,1.06,1.065,1.07,1.075,1.08],"labelExpr":"''+datum.value","labelFontSize":24,"tickSize":-9,"labelPadding":22,"labelFlush":false,"orient":"bottom"}},"y":{"field":"y","type":"quantitative","scale":{"domain":[-0.025,0.025],"nice":false,"zero":false,"reverse":true},"axis":{"values":[-0.025,-0.02,-0.015,-0.01,-0.005,0,0.005,0.01,0.015,0.02,0.025],"labelExpr":"''+datum.value","labelFontSize":24,"tickSize":-9,"labelPadding":22,"orient":"left"}},"color":{"field":"v","type":"quantitative","legend":null,"scale":{"domain":[0.006,0.25,0.5,0.75,1,1.25,1.5,1.75,2,2.25,2.5,2.7,2.8,3,3.22],"range":["#3A27A0","#4432CC","#4450F0","#3C6EFA","#2C88EC","#1CA4DC","#08BCC4","#36C796","#66CC72","#A8BE3C","#D4B928","#F8B03C","#FDBB36","#FBDC28","#F9FB15"]}}}},{"data":{"name":"coarse"},"mark":{"type":"rect","width":29.6,"height":40.2,"clip":true},"encoding":{"x":{"field":"x","type":"quantitative","scale":{"domain":[1.03,1.08],"nice":false,"zero":false},"axis":{"orient":"top","values":[1.03,1.035,1.04,1.045,1.05,1.055,1.06,1.065,1.07,1.075,1.08],"labels":false,"tickSize":-9}},"y":{"field":"y","type":"quantitative","scale":{"domain":[-0.025,0.025],"nice":false,"zero":false,"reverse":true},"axis":{"orient":"right","values":[-0.025,-0.02,-0.015,-0.01,-0.005,0,0.005,0.01,0.015,0.02,0.025],"labels":false,"tickSize":-9}},"color":{"field":"v","type":"quantitative","legend":null}}},{"data":{"name":"dot"},"mark":{"type":"point","filled":true,"fill":"white","stroke":"#2F4B7C","strokeWidth":2,"opacity":1,"size":1444,"shape":"circle"},"encoding":{"x":{"field":"x","type":"quantitative","axis":null},"y":{"field":"y","type":"quantitative","axis":null}}}]},{"width":47,"height":840,"view":{"stroke":"#666666","strokeWidth":1.5},"layer":[{"data":{"name":"bar"},"mark":{"type":"rect","width":47,"height":11.5,"clip":true},"encoding":{"x":{"datum":0.5,"type":"quantitative","scale":{"domain":[0,1],"nice":false,"zero":false},"axis":null},"y":{"field":"v","type":"quantitative","scale":{"domain":[0.006,3.22],"nice":false,"zero":false},"axis":{"orient":"right","values":[0.5,1,1.5,2,2.5,3],"labelExpr":"''+datum.value","labelFontSize":21.5,"tickSize":-9,"labelPadding":18}},"color":{"field":"v","type":"quantitative","legend":null,"scale":{"domain":[0.006,0.25,0.5,0.75,1,1.25,1.5,1.75,2,2.25,2.5,2.7,2.8,3,3.22],"range":["#3A27A0","#4432CC","#4450F0","#3C6EFA","#2C88EC","#1CA4DC","#08BCC4","#36C796","#66CC72","#A8BE3C","#D4B928","#F8B03C","#FDBB36","#FBDC28","#F9FB15"]}}}},{"data":{"name":"exp"},"mark":{"type":"text","align":"left","baseline":"middle","dx":60.5,"dy":-27,"fontSize":18,"color":"#262626","font":"Liberation Sans"},"encoding":{"y":{"field":"v","type":"quantitative"},"text":{"field":"label"}}},{"data":{"name":"base"},"mark":{"type":"text","align":"left","baseline":"middle","dx":19.5,"dy":-20,"fontSize":23,"color":"#262626","font":"Liberation Sans"},"encoding":{"y":{"field":"v","type":"quantitative"},"text":{"field":"label"}}}]}]}
